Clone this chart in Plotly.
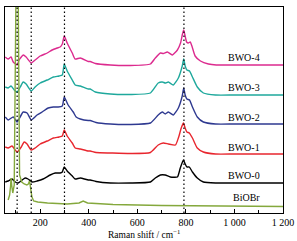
import plotly.graph_objects as go

# ---- data (Raman shift in cm-1, intensity in offset a.u.) ----
bwo4_x = [56, 68, 80, 89, 105, 113, 130, 142, 163, 179, 200, 229, 249, 270, 282, 291, 299, 311, 332, 344,
          365, 398, 406, 427, 489, 571, 654, 674, 695, 707, 724, 744, 765, 778, 786, 791, 796, 803, 810, 818,
          826, 838, 860, 893, 925, 1000, 1200]
bwo4_y = [156, 154, 156, 151, 148, 153, 158, 156, 150, 153, 157, 160, 163, 165, 166, 169, 177, 170, 160, 154,
          155, 151.5, 151.5, 149.5, 148, 147.5, 149, 155, 160, 159.5, 161, 158, 163, 170, 179, 183, 178, 171, 170, 171,
          166, 157, 152, 149, 148, 148, 148]

bwo3_x = [56, 68, 80, 93, 105, 118, 130, 142, 163, 179, 200, 229, 254, 278, 291, 299, 311, 332, 344,
          365, 398, 406, 427, 489, 571, 654, 686, 703, 715, 728, 748, 769, 785, 791, 797, 804, 815,
          827, 847, 872, 922, 1000, 1200]
bwo3_y = [126, 125, 127, 123, 121, 126, 131, 129, 122, 126, 130, 133, 136, 137, 138, 149, 142, 133, 128,
          127, 124, 124, 121, 119, 118.5, 120, 130, 131, 130, 131, 128, 135, 147, 154, 147, 143, 142,
          136, 126, 120, 118, 118, 118]

bwo2_x = [56, 68, 89, 105, 113, 130, 146, 163, 187, 208, 233, 254, 274, 291, 299, 315, 336, 348,
          365, 398, 406, 430, 489, 571, 654, 686, 703, 715, 728, 748, 769, 785, 791, 797, 804, 815,
          827, 847, 872, 922, 1000, 1200]
bwo2_y = [96, 93, 96, 91, 94, 101, 100, 93, 98, 101, 105, 106, 106, 107, 116, 108, 101, 96,
          94, 92.5, 92.5, 90.5, 89, 88.5, 90, 98, 101, 99, 101, 98, 105, 117, 125, 118, 114, 113,
          106, 96, 91, 89, 89, 89]

bwo1_x = [56, 68, 84, 97, 105, 122, 134, 146, 163, 179, 200, 229, 254, 278, 291, 299, 311, 332, 344,
          365, 398, 406, 430, 489, 571, 654, 686, 707, 728, 757, 769, 781, 790, 797, 804, 814,
          827, 847, 872, 922, 1000, 1200]
bwo1_y = [66, 65, 67, 63, 61, 66, 71, 69, 63, 65, 69, 72, 75, 76, 77, 83, 77, 70, 65,
          64, 62, 62, 60.5, 60, 59.5, 60.5, 68, 70, 69, 68, 75, 85, 90, 85, 81, 80,
          75, 65, 61, 59, 59, 59]

bwo0_x = [56, 68, 84, 97, 109, 126, 138, 150, 167, 187, 212, 241, 262, 282, 291, 299, 311, 332, 344,
          365, 398, 406, 430, 489, 571, 654, 674, 695, 715, 736, 765, 777, 790, 797, 804, 814,
          827, 847, 872, 922, 1000, 1200]
bwo0_y = [31, 32, 34, 31, 30, 33, 35, 34, 31, 32, 34, 38, 40, 40, 41, 46, 42, 37, 34,
          35, 33, 33, 31.5, 30, 30, 31, 35, 38, 38, 36, 36, 45, 53, 49, 46, 46,
          41, 35, 31, 30, 30, 30]

biobr_x = [68, 74, 78, 80, 83, 87, 93, 97, 100, 104, 108, 111, 115, 124, 134, 145, 151, 156, 160, 166,
           173, 190, 230, 311, 360, 377, 395, 440, 500, 700, 900, 1200]
biobr_y = [13, 18, 27, 35, 27, 20, 28, 120, 260, 320, 260, 120, 38, 31, 29, 28, 29, 32, 26, 16,
           12, 11, 10, 9, 10, 12, 10, 9.5, 8.5, 7.5, 7, 6.5]

series_names = ["BWO-4", "BWO-3", "BWO-2", "BWO-1", "BWO-0", "BiOBr"]
series_x = [bwo4_x, bwo3_x, bwo2_x, bwo1_x, bwo0_x, biobr_x]
series_y = [bwo4_y, bwo3_y, bwo2_y, bwo1_y, bwo0_y, biobr_y]
series_colors = ["#dc2a8e", "#1ea89c", "#2e3990", "#e8262e", "#000000", "#84a83c"]
series_smooth = [0.5, 0.5, 0.5, 0.5, 0.5, 0.0]
label_y = [156, 126, 96, 66, 38, 16]

ref_lines = [105, 163, 300, 792]
tick_vals = [200, 400, 600, 800, 1000, 1200]
tick_text = ["200", "400", "600", "800", "1 000", "1 200"]
x_title = "Raman shift / cm<sup>−1</sup>"

serif = "Liberation Serif, Times New Roman, serif"

fig = go.Figure()
for name, xs, ys, c, sm in zip(series_names, series_x, series_y, series_colors, series_smooth):
    fig.add_trace(go.Scatter(x=xs, y=ys, mode="lines", name=name,
                             line=dict(color=c, width=1.4,
                                       shape="spline" if sm > 0 else "linear",
                                       smoothing=sm if sm > 0 else None),
                             showlegend=False, hoverinfo="skip"))

for xv in ref_lines:
    fig.add_shape(type="line", xref="x", yref="paper", x0=xv, x1=xv, y0=0, y1=1,
                  line=dict(color="black", width=1.2, dash="1.5px,2.5px"))

for name, ly in zip(series_names, label_y):
    fig.add_annotation(x=1113, y=ly, xref="x", yref="y", text=name, showarrow=False,
                       xanchor="right", yanchor="middle",
                       font=dict(family=serif, size=10, color="black"))

fig.add_annotation(x=0.5, y=-0.103, xref="paper", yref="paper", text=x_title, showarrow=False,
                   xanchor="center", yanchor="middle",
                   font=dict(family=serif, size=9.5, color="black"))

fig.update_layout(
    width=297, height=241,
    margin=dict(l=5, r=14, t=7, b=28, autoexpand=False),
    plot_bgcolor="white", paper_bgcolor="white",
    font=dict(family=serif, size=10, color="black"),
    xaxis=dict(range=[55, 1200], tickvals=tick_vals, ticktext=tick_text,
               ticks="inside", ticklen=4, tickcolor="black", tickwidth=1,
               minor=dict(dtick=100, tick0=0, ticks="inside", ticklen=3, tickcolor="black"),
               showline=True, linecolor="black", linewidth=1.2, mirror=True,
               showgrid=False, zeroline=False, automargin=False,
               ticklabelstandoff=0,
               tickfont=dict(family=serif, size=10)),
    yaxis=dict(range=[0, 206], showticklabels=False, ticks="",
               showline=True, linecolor="black", linewidth=1.2, mirror=True,
               showgrid=False, zeroline=False, automargin=False),
)

fig.write_html("out.html", config={"displayModeBar": False},
               post_script="document.body.style.margin='0';document.body.style.overflow='hidden';")
